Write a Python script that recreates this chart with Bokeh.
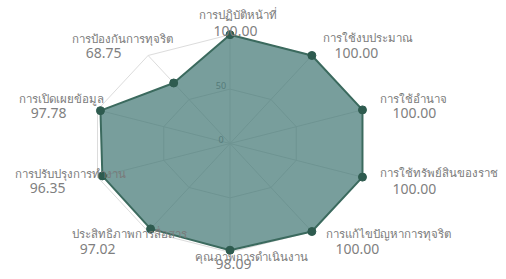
import numpy as np
from bokeh.plotting import figure
from bokeh.models import ColumnDataSource
from bokeh.core.properties import value
from bokeh.embed import file_html
from bokeh.resources import INLINE

categories = [
    "การปฏิบัติหน้าที่",
    "การใช้งบประมาณ",
    "การใช้อำนาจ",
    "การใช้ทรัพย์สินของราชการ",
    "การแก้ไขปัญหาการทุจริต",
    "คุณภาพการดำเนินงาน",
    "ประสิทธิภาพการสื่อสาร",
    "การปรับปรุงการทำงาน",
    "การเปิดเผยข้อมูล",
    "การป้องกันการทุจริต",
]
scores = [100.00, 100.00, 100.00, 100.00, 100.00, 98.09, 97.02, 96.35, 97.78, 68.75]
grid_levels = [50, 100]
tick_values = [0, 50]
tick_labels = ["0", "50"]
scale_max = 100

n = len(categories)
theta = np.arange(n) * 2 * np.pi / n
sx, cy = np.sin(theta), np.cos(theta)

W, H = 498, 271
kx, ky = 1.393, 1.088
cxp, cyp = 229.5, 143.0
x0 = -cxp / kx
y1 = cyp / ky
p = figure(width=W, height=H, output_backend="svg", toolbar_location=None,
           x_range=(x0, x0 + W / kx), y_range=(y1 - H / ky, y1),
           min_border=0, outline_line_color=None)
p.axis.visible = False
p.grid.visible = False
p.background_fill_color = "white"
p.border_fill_color = "white"

grid_color = "#dcdcdc"
for i in range(n):
    p.line([0, scale_max * sx[i]], [0, scale_max * cy[i]], line_color=grid_color, line_width=1)
for lv in grid_levels:
    xs = list(lv * sx) + [lv * sx[0]]
    ys = list(lv * cy) + [lv * cy[0]]
    p.line(xs, ys, line_color=grid_color, line_width=1)

p.text(x=[0] * len(tick_values), y=tick_values, text=tick_labels,
       text_font=value("Noto Sans"), text_font_size="9px", text_color="#8a8a8a",
       text_align="center", text_baseline="middle", x_offset=-9, y_offset=-4)

vals = np.array(scores)
px = vals * sx
py = vals * cy
p.patch(list(px), list(py), fill_color="#3f7572", fill_alpha=0.7,
        line_color="#3b6a5e", line_width=2, line_join="round")
p.scatter(px, py, size=8, fill_color="#2e5b4f", line_color="#2e5b4f")

ax = scale_max * sx
ay = scale_max * cy
lab_dx = [7.5, 56.6, 51, 18, 76.6, 21.5, -18.6, -27, -36, -25.6]
lab_dy = [-20, -18, -11.4, -4.6, 2, 4.0, 2, -3.6, -11.4, -17]
lab_align = ["center", "center", "center", "left", "center", "center", "center", "center", "center", "center"]
val_dx = [5.5, 44.6, 52, 52, 45.6, 3.5, -50.6, -50, -49, -44.6]
val_dy = [-4, -2, 3.6, 11.4, 17, 11.5, 17, 10.4, 3.6, -2]

src_l = ColumnDataSource(dict(x=ax, y=ay, t=categories, dx=lab_dx, dy=lab_dy, al=lab_align))
p.text(x="x", y="y", text="t", x_offset="dx", y_offset="dy", text_align="al",
       text_baseline="middle", text_font=value("Noto Sans"), text_font_size="11.5px",
       text_color="#7a7a7a", source=src_l)
src_v = ColumnDataSource(dict(x=ax, y=ay, t=["%.2f" % v for v in scores], dx=val_dx, dy=val_dy))
p.text(x="x", y="y", text="t", x_offset="dx", y_offset="dy", text_align="center",
       text_baseline="middle", text_font=value("Noto Sans"), text_font_size="14px",
       text_color="#7f7f7f", source=src_v)

open("out.html", "w").write(file_html(p, INLINE))
